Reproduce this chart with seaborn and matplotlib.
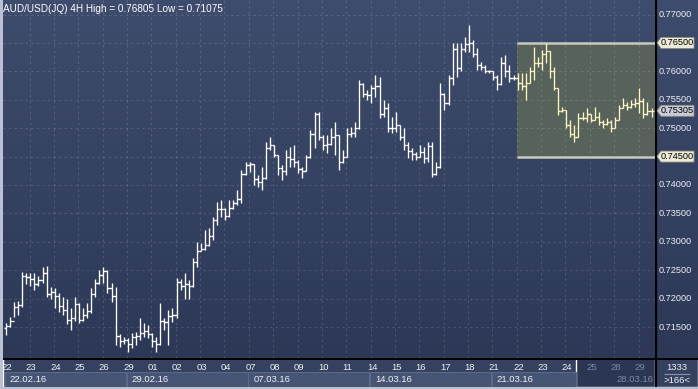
import numpy as np
import matplotlib
matplotlib.use("Agg")
import matplotlib.pyplot as plt
import seaborn as sns
from matplotlib.patches import Rectangle, Polygon
from matplotlib.colors import LinearSegmentedColormap

# ---------------- data ----------------
title = "AUD/USD(JQ) 4H High = 0.76805 Low = 0.71075"
day_labels = ["22", "23", "24", "25", "26", "29", "01", "02", "03", "04", "07", "08", "09", "10",
              "11", "14", "15", "16", "17", "18", "21", "22", "23", "24", "25", "28", "29"]
week_labels = ["22.02.16", "29.02.16", "07.03.16", "14.03.16", "21.03.16", "28.03.16"]
bars_per_day = 6

opens = [0.7149, 0.7152, 0.7160, 0.7185, 0.7188, 0.7240, 0.7238, 0.7235, 0.7225, 0.7232,
         0.7245, 0.7208, 0.7212, 0.7205, 0.7187, 0.7180, 0.7162, 0.7165, 0.7190, 0.7163,
         0.7172, 0.7178, 0.7208, 0.7228, 0.7242, 0.7248, 0.7218, 0.7205, 0.7135, 0.7125,
         0.7128, 0.7120, 0.7132, 0.7135, 0.7140, 0.7143, 0.7138, 0.7125, 0.7120, 0.7160,
         0.7158, 0.7170, 0.7172, 0.7230, 0.7222, 0.7225, 0.7222, 0.7265, 0.7283, 0.7287,
         0.7295, 0.7310, 0.7338, 0.7358, 0.7358, 0.7345, 0.7360, 0.7368, 0.7375, 0.7420,
         0.7435, 0.7437, 0.7410, 0.7405, 0.7412, 0.7465, 0.7470, 0.7452, 0.7430, 0.7425,
         0.7450, 0.7445, 0.7440, 0.7428, 0.7425, 0.7450, 0.7490, 0.7525, 0.7485, 0.7470,
         0.7472, 0.7485, 0.7488, 0.7440, 0.7450, 0.7490, 0.7492, 0.7500, 0.7578, 0.7560,
         0.7558, 0.7570, 0.7575, 0.7525, 0.7535, 0.7500, 0.7500, 0.7505, 0.7485, 0.7470,
         0.7460, 0.7455, 0.7450, 0.7458, 0.7448, 0.7468, 0.7420, 0.7432, 0.7560, 0.7545,
         0.7588, 0.7640, 0.7605, 0.7640, 0.7648, 0.7650, 0.7630, 0.7612, 0.7608, 0.7600,
         0.7600, 0.7590, 0.7578, 0.7615, 0.7600, 0.7588, 0.7588, 0.7580, 0.7575, 0.7580,
         0.7600, 0.7615, 0.7615, 0.7630, 0.7635, 0.7600, 0.7570, 0.7530, 0.7532, 0.7505,
         0.7490, 0.7485, 0.7518, 0.7518, 0.7525, 0.7515, 0.7520, 0.7510, 0.7508, 0.7510,
         0.7500, 0.7515, 0.7535, 0.7540, 0.7538, 0.7542, 0.7545, 0.7548, 0.7525, 0.7530]

highs = [0.7157, 0.7168, 0.7194, 0.7195, 0.7247, 0.7245, 0.7245, 0.7245, 0.7240, 0.7255,
         0.7258, 0.7220, 0.7218, 0.7210, 0.7203, 0.7200, 0.7183, 0.7203, 0.7192, 0.7183,
         0.7192, 0.7218, 0.7235, 0.7250, 0.7255, 0.7250, 0.7227, 0.7220, 0.7138, 0.7133,
         0.7131, 0.7140, 0.7141, 0.7166, 0.7157, 0.7153, 0.7140, 0.7133, 0.7192, 0.7165,
         0.7180, 0.7183, 0.7236, 0.7235, 0.7245, 0.7232, 0.7271, 0.7300, 0.7298, 0.7320,
         0.7324, 0.7344, 0.7370, 0.7374, 0.7360, 0.7374, 0.7373, 0.7391, 0.7426, 0.7440,
         0.7440, 0.7437, 0.7418, 0.7432, 0.7475, 0.7484, 0.7470, 0.7452, 0.7435, 0.7462,
         0.7467, 0.7470, 0.7444, 0.7432, 0.7453, 0.7497, 0.7528, 0.7528, 0.7488, 0.7488,
         0.7500, 0.7511, 0.7488, 0.7462, 0.7500, 0.7502, 0.7511, 0.7585, 0.7580, 0.7567,
         0.7576, 0.7594, 0.7590, 0.7550, 0.7544, 0.7520, 0.7528, 0.7505, 0.7500, 0.7476,
         0.7465, 0.7458, 0.7470, 0.7467, 0.7476, 0.7476, 0.7440, 0.7580, 0.7562, 0.7594,
         0.7650, 0.7650, 0.7650, 0.7660, 0.7681, 0.7655, 0.7641, 0.7616, 0.7611, 0.7602,
         0.7600, 0.7594, 0.7625, 0.7629, 0.7611, 0.7594, 0.7597, 0.7597, 0.7597, 0.7608,
         0.7643, 0.7625, 0.7638, 0.7650, 0.7635, 0.7608, 0.7571, 0.7537, 0.7532, 0.7514,
         0.7506, 0.7527, 0.7528, 0.7535, 0.7525, 0.7537, 0.7528, 0.7514, 0.7518, 0.7514,
         0.7520, 0.7540, 0.7553, 0.7546, 0.7550, 0.7553, 0.7571, 0.7553, 0.7546, 0.7535]

lows = [0.7136, 0.7150, 0.7168, 0.7172, 0.7186, 0.7225, 0.7222, 0.7215, 0.7222, 0.7228,
        0.7203, 0.7200, 0.7183, 0.7177, 0.7172, 0.7155, 0.7145, 0.7160, 0.7157, 0.7160,
        0.7166, 0.7175, 0.7203, 0.7226, 0.7228, 0.7210, 0.7194, 0.7118, 0.7115, 0.7120,
        0.7106, 0.7113, 0.7118, 0.7127, 0.7132, 0.7131, 0.7115, 0.7106, 0.7118, 0.7145,
        0.7118, 0.7159, 0.7166, 0.7215, 0.7200, 0.7200, 0.7220, 0.7256, 0.7283, 0.7285,
        0.7293, 0.7304, 0.7330, 0.7344, 0.7338, 0.7344, 0.7358, 0.7365, 0.7368, 0.7418,
        0.7423, 0.7400, 0.7397, 0.7392, 0.7410, 0.7462, 0.7449, 0.7418, 0.7409, 0.7418,
        0.7432, 0.7432, 0.7421, 0.7412, 0.7424, 0.7448, 0.7465, 0.7479, 0.7462, 0.7456,
        0.7470, 0.7453, 0.7426, 0.7438, 0.7449, 0.7484, 0.7484, 0.7498, 0.7555, 0.7550,
        0.7544, 0.7555, 0.7518, 0.7520, 0.7493, 0.7491, 0.7493, 0.7479, 0.7462, 0.7447,
        0.7444, 0.7444, 0.7449, 0.7439, 0.7440, 0.7414, 0.7418, 0.7430, 0.7532, 0.7540,
        0.7576, 0.7590, 0.7600, 0.7634, 0.7634, 0.7625, 0.7602, 0.7602, 0.7597, 0.7597,
        0.7585, 0.7567, 0.7576, 0.7590, 0.7581, 0.7585, 0.7567, 0.7567, 0.7550, 0.7580,
        0.7585, 0.7608, 0.7602, 0.7615, 0.7588, 0.7567, 0.7523, 0.7528, 0.7500, 0.7484,
        0.7476, 0.7484, 0.7514, 0.7511, 0.7511, 0.7514, 0.7506, 0.7500, 0.7506, 0.7493,
        0.7500, 0.7514, 0.7535, 0.7532, 0.7535, 0.7537, 0.7526, 0.7518, 0.7523, 0.7520]

closes = [0.7152, 0.7160, 0.7185, 0.7188, 0.7240, 0.7238, 0.7235, 0.7225, 0.7232, 0.7245,
          0.7208, 0.7212, 0.7205, 0.7187, 0.7180, 0.7162, 0.7165, 0.7190, 0.7163, 0.7172,
          0.7178, 0.7208, 0.7228, 0.7242, 0.7248, 0.7218, 0.7205, 0.7135, 0.7125, 0.7128,
          0.7120, 0.7132, 0.7135, 0.7140, 0.7143, 0.7138, 0.7125, 0.7120, 0.7160, 0.7158,
          0.7170, 0.7172, 0.7230, 0.7222, 0.7225, 0.7222, 0.7265, 0.7283, 0.7287, 0.7295,
          0.7310, 0.7338, 0.7358, 0.7358, 0.7345, 0.7360, 0.7368, 0.7375, 0.7420, 0.7435,
          0.7437, 0.7410, 0.7405, 0.7412, 0.7465, 0.7470, 0.7452, 0.7430, 0.7425, 0.7450,
          0.7445, 0.7440, 0.7428, 0.7425, 0.7450, 0.7490, 0.7525, 0.7485, 0.7470, 0.7472,
          0.7485, 0.7488, 0.7440, 0.7450, 0.7490, 0.7492, 0.7500, 0.7578, 0.7560, 0.7558,
          0.7570, 0.7575, 0.7525, 0.7535, 0.7500, 0.7500, 0.7505, 0.7485, 0.7470, 0.7460,
          0.7455, 0.7450, 0.7458, 0.7448, 0.7468, 0.7420, 0.7432, 0.7560, 0.7545, 0.7588,
          0.7640, 0.7605, 0.7640, 0.7648, 0.7650, 0.7630, 0.7612, 0.7608, 0.7600, 0.7600,
          0.7590, 0.7578, 0.7615, 0.7600, 0.7588, 0.7588, 0.7580, 0.7575, 0.7580, 0.7600,
          0.7615, 0.7615, 0.7630, 0.7635, 0.7600, 0.7570, 0.7530, 0.7532, 0.7505, 0.7490,
          0.7485, 0.7518, 0.7518, 0.7525, 0.7515, 0.7520, 0.7510, 0.7508, 0.7510, 0.7500,
          0.7515, 0.7535, 0.7540, 0.7538, 0.7542, 0.7545, 0.7548, 0.7525, 0.7530, 0.75305]

price_ticks = [0.715, 0.720, 0.725, 0.730, 0.735, 0.740, 0.745, 0.750, 0.755, 0.760, 0.765, 0.770]
zone_top, zone_bottom = 0.765, 0.745
zone_start_day = 21          # index into day_labels ("22" of March)
last_price = 0.75305
info_top, info_bottom = "1333", ">166<"

# ---------------- style ----------------
sns.set_style("dark")
plt.rcParams["font.family"] = ["Liberation Sans", "DejaVu Sans"]

W, H = 698, 389
fig = plt.figure(figsize=(W / 100, H / 100), dpi=100)
fig.patch.set_facecolor("#34415f")


def frame(x0, y0, x1, y1):
    return [x0 / W, 1 - y1 / H, (x1 - x0) / W, (y1 - y0) / H]


n = len(closes)
xi = np.arange(n)
px_per_bar = 4.06
xmin = -3 / px_per_bar
xmax = xmin + 652 / px_per_bar
px_per_price = 312.5 / 0.055
ymax = 0.770 + 14.5 / px_per_price
ymin = ymax - 358 / px_per_price

grad_cmap = LinearSegmentedColormap.from_list("bg", ["#2c3856", "#3e4c6d"])
gradient = np.linspace(0, 1, 256).reshape(-1, 1)

# main chart
ax = fig.add_axes(frame(3, 0, 655, 358))
ax.set_xlim(xmin, xmax)
ax.set_ylim(ymin, ymax)
ax.imshow(gradient, extent=[xmin, xmax, ymin, ymax], origin="lower", aspect="auto",
          cmap=grad_cmap, zorder=0)
ax.set_axis_off()

zone_x0 = zone_start_day * bars_per_day - 0.05
ax.add_patch(Rectangle((zone_x0, zone_bottom), xmax - zone_x0, zone_top - zone_bottom,
                       facecolor="#57625a", edgecolor="none", zorder=1))

# grid
ax.hlines(price_ticks, xmin, xmax, colors="white", alpha=0.15, linestyles=(0, (2, 3)),
          linewidth=0.8, zorder=2)
day_edges = [d * bars_per_day - 0.2 for d in range(1, len(day_labels))]
ax.vlines(day_edges, ymin, ymax, colors="white", alpha=0.15, linestyles=(0, (2, 3)),
          linewidth=0.8, zorder=2)

ax.hlines([zone_top, zone_bottom], zone_x0, xmax, colors="#c9c9c0", linewidth=1.8, zorder=3)

# OHLC bars
colors = ["#fff5c4" if i >= zone_x0 else "#ffffff" for i in xi]
ax.vlines(xi, lows, highs, colors=colors, linewidth=0.95, zorder=4)
ax.hlines(opens, xi - 0.55, xi, colors=colors, linewidth=0.95, zorder=4)
ax.hlines(closes, xi, xi + 0.55, colors=colors, linewidth=0.95, zorder=4)

fig.text(3 / W, 1 - 8.5 / H, title, color="white", fontsize=7.2, va="center", ha="left")

# right price panel
axr = fig.add_axes(frame(655, 0, 698, 358))
axr.set_xlim(0, 43)
axr.set_ylim(ymin, ymax)
axr.imshow(gradient, extent=[0, 43, ymin, ymax], origin="lower", aspect="auto",
           cmap=grad_cmap, zorder=0)
axr.set_axis_off()
axr.vlines([0.6], ymin, ymax, colors="black", linewidth=1.6, zorder=5)
for p in price_ticks:
    if abs(p - zone_top) < 1e-9 or abs(p - zone_bottom) < 1e-9:
        continue
    axr.text(3.5, p, f"{p:.5f}", color="#eef0f6", fontsize=6.6, va="center", ha="left")

tag_h = 11 / px_per_price


def tag(price, fc):
    pts = [(2, price), (6, price + tag_h / 2), (39, price + tag_h / 2),
           (39, price - tag_h / 2), (6, price - tag_h / 2)]
    axr.add_patch(Polygon(pts, closed=True, facecolor=fc, edgecolor="#8c8c80",
                          linewidth=0.6, zorder=6))
    axr.text(22.5, price, f"{price:.5f}", color="black", fontsize=6.6, va="center",
             ha="center", zorder=7)


tag(zone_top, "#ecebd6")
tag(zone_bottom, "#ecebd6")
tag(last_price, "#c9ccd6")

# bottom date strip
axb = fig.add_axes(frame(3, 358, 655, 387))
axb.set_xlim(xmin, xmax)
axb.set_ylim(29, 0)
axb.set_axis_off()
axb.add_patch(Rectangle((xmin, 0), xmax - xmin, 29, facecolor="#34415f", zorder=0))
dim_x0 = 23 * bars_per_day + 2.3
axb.add_patch(Rectangle((dim_x0, 0), xmax - dim_x0, 29, facecolor="#2b3653", zorder=1))
for w, lab in enumerate(week_labels[:-1]):
    x0 = w * 5 * bars_per_day - 0.3
    x1 = min((w + 1) * 5 * bars_per_day - 0.5, dim_x0)
    axb.add_patch(Rectangle((x0, 14), x1 - x0, 15, facecolor="#475575",
                            edgecolor="#5b6889", linewidth=0.8, zorder=2))
    axb.text(x0 + 1.2, 22, lab, color="#eef0f6", fontsize=6.8, va="center", ha="left",
             zorder=3)
axb.text(xmax - 0.3, 22, week_labels[-1], color="#7d88a6", fontsize=6.8, va="center",
         ha="right", zorder=3)
for d, lab in enumerate(day_labels):
    x = d * bars_per_day - 1.1
    col = "#7d88a6" if x > dim_x0 else "#eef0f6"
    axb.text(x, 9, lab, color=col, fontsize=6.8, va="center", ha="left", zorder=3)
axb.hlines([0.5], xmin, xmax, colors="black", linewidth=1.4, zorder=4)

# bottom-right info box
axbr = fig.add_axes(frame(655, 358, 698, 387))
axbr.set_xlim(0, 43)
axbr.set_ylim(29, 0)
axbr.set_axis_off()
axbr.add_patch(Rectangle((0, 0), 43, 29, facecolor="#34415f", zorder=0))
axbr.vlines([0.6], 0, 29, colors="black", linewidth=1.6, zorder=4)
axbr.hlines([0.5], 0, 43, colors="black", linewidth=1.4, zorder=4)
axbr.text(22, 9.5, info_top, color="#eef0f6", fontsize=6.8, va="center", ha="center")
axbr.hlines([16], 9, 35, colors="#8a93aa", linewidth=0.8)
axbr.text(22, 22.5, info_bottom, color="#eef0f6", fontsize=6.8, va="center", ha="center")

# light window frame on the left and bottom edges
fig.patches.append(Rectangle((0, 0), 2.5 / W, 1, transform=fig.transFigure,
                             facecolor="#b9c1d2", edgecolor="none", zorder=10))
fig.patches.append(Rectangle((0, 0), 1, 2 / H, transform=fig.transFigure,
                             facecolor="#b9c1d2", edgecolor="none", zorder=10))

fig.savefig("out.png", dpi=100, facecolor=fig.get_facecolor())
